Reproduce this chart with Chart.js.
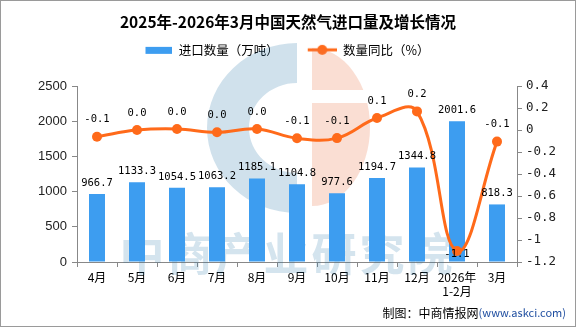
<!DOCTYPE html>
<html lang="zh">
<head>
<meta charset="UTF-8">
<title>2025年-2026年3月中国天然气进口量及增长情况</title>
<script src="https://cdn.jsdelivr.net/npm/chart.js"></script>
<style>
  body { margin: 0; background: #fff; }
  canvas { display: block; }
</style>
</head>
<body>
<canvas id="gasChart" width="576" height="327"></canvas>
<script>
// data
const months = ['4月', '5月', '6月', '7月', '8月', '9月', '10月', '11月', '12月', ['2026年', '1-2月'], '3月'];
const importVolume = [966.7, 1133.3, 1054.5, 1063.2, 1185.1, 1104.8, 977.6, 1194.7, 1344.8, 2001.6, 818.3];
const volumeYoY = [-0.06, 0.0, 0.01, -0.02, 0.01, -0.075, -0.073, 0.11, 0.17, -1.1, -0.105];
const leftTicks = [0, 500, 1000, 1500, 2000, 2500];
const rightTicks = [-1.2, -1.0, -0.8, -0.6, -0.4, -0.2, 0, 0.2, 0.4];

const BLUE = '#3d9df0';
const ORANGE = '#ff6a1a';
const CJK = '"Noto Sans CJK SC", "Noto Sans", sans-serif';
const MONO = '"DejaVu Sans Mono", "Liberation Mono", monospace';

// legend symbols (48px wide slot, drawn on the right side)
function legendIcon(kind) {
    const c = document.createElement('canvas');
    c.width = 48; c.height = 12;
    const g = c.getContext('2d');
    if (kind === 'bar') {
        g.fillStyle = BLUE;
        g.fillRect(21, 3, 27, 7);
    } else {
        g.strokeStyle = ORANGE;
        g.lineWidth = 3;
        g.beginPath(); g.moveTo(19, 6); g.lineTo(48, 6); g.stroke();
        g.fillStyle = ORANGE;
        g.beginPath(); g.arc(33.5, 6, 5, 0, Math.PI * 2); g.fill();
    }
    return c;
}
const barIcon = legendIcon('bar');
const lineIcon = legendIcon('line');

function fmt1(v) {
    let s = v.toFixed(1);
    if (s === '-0.0') s = '0.0';
    return s;
}

const extras = {
    id: 'extras',
    beforeLayout(chart) {
        const lg = chart.legend;
        if (lg && !lg._patched) {
            const fit = lg.fit;
            lg.fit = function () { fit.call(this); this.height += 20; };
            const draw = lg.draw;
            lg.draw = function (area) {
                this.ctx.save();
                this.ctx.translate(-11, 0);
                draw.call(this, area);
                this.ctx.restore();
            };
            lg._patched = true;
        }
    },
    beforeDatasetsDraw(chart) {
        // faint site watermark
        const ctx = chart.ctx;
        ctx.save();
        ctx.fillStyle = 'rgba(40,120,170,0.22)';
        ctx.beginPath();
        ctx.moveTo(297, 43);
        ctx.ellipse(297, 128, 90, 85, 0, -Math.PI / 2, Math.PI / 2, true);
        ctx.lineTo(297, 173);
        ctx.ellipse(297, 128, 48, 45, 0, Math.PI / 2, -Math.PI / 2, false);
        ctx.closePath();
        ctx.fill();
        ctx.fillStyle = 'rgba(235,115,70,0.24)';
        ctx.beginPath();
        ctx.moveTo(312, 48);
        ctx.ellipse(312, 127, 58, 79, 0, -Math.PI / 2, Math.PI / 2, false);
        ctx.closePath();
        ctx.fill();
        ctx.fillStyle = '#fff';
        ctx.fillRect(312, 90, 70, 13);
        ctx.fillStyle = 'rgba(40,120,170,0.2)';
        ctx.font = 'bold 45px ' + CJK;
        ctx.textAlign = 'center';
        ctx.textBaseline = 'middle';
        Array.from('中商产业研究院').forEach((ch, i) => {
            ctx.fillText(ch, 142 + i * 48, 254);
        });
        ctx.restore();
    },
    afterDatasetsDraw(chart) {
        const ctx = chart.ctx;
        ctx.save();
        ctx.fillStyle = '#000';
        ctx.textAlign = 'center';
        ctx.textBaseline = 'middle';
        ctx.font = '10.5px ' + MONO;
        chart.getDatasetMeta(0).data.forEach((bar, i) => {
            ctx.fillText(importVolume[i].toFixed(1), bar.x, bar.y - 11);
        });
        chart.getDatasetMeta(1).data.forEach((pt, i) => {
            const v = volumeYoY[i];
            const dy = v < -0.5 ? 3 : -17;
            ctx.fillText(fmt1(v), pt.x, pt.y + dy);
        });
        ctx.restore();
    },
    afterDraw(chart) {
        const ctx = chart.ctx;
        ctx.save();
        ctx.textBaseline = 'middle';
        ctx.textAlign = 'left';
        ctx.font = '11px ' + CJK;
        const site = '(www.askci.com)';
        const siteW = ctx.measureText(site).width;
        ctx.fillStyle = '#1f4ea0';
        ctx.fillText(site, 566 - siteW, 313);
        ctx.font = '12px ' + CJK;
        const lab = '制图：中商情报网';
        const labW = ctx.measureText(lab).width;
        ctx.fillStyle = '#000';
        ctx.fillText(lab, 566 - siteW - labW, 313);
        ctx.strokeStyle = '#9a9a9a';
        ctx.lineWidth = 1;
        ctx.strokeRect(0.5, 0.5, 575, 326);
        ctx.restore();
    }
};

new Chart(document.getElementById('gasChart').getContext('2d'), {
    data: {
        labels: months,
        datasets: [
            {
                type: 'bar',
                label: '进口数量（万吨）',
                data: importVolume,
                backgroundColor: BLUE,
                yAxisID: 'y',
                barPercentage: 0.4,
                categoryPercentage: 1.0,
                order: 2
            },
            {
                type: 'line',
                label: '数量同比（%）',
                data: volumeYoY,
                borderColor: ORANGE,
                backgroundColor: ORANGE,
                borderWidth: 3,
                pointRadius: 5,
                pointBackgroundColor: ORANGE,
                pointBorderWidth: 0,
                tension: 0.4,
                yAxisID: 'y1',
                order: 1
            }
        ]
    },
    options: {
        responsive: false,
        devicePixelRatio: 1,
        animation: false,
        layout: { padding: { left: 0, right: 0, top: 0, bottom: 0 } },
        plugins: {
            title: {
                display: true,
                text: '2025年-2026年3月中国天然气进口量及增长情况',
                color: '#000',
                font: { family: CJK, size: 15.5, weight: 'bold' },
                padding: { top: 13, bottom: 2 }
            },
            legend: {
                display: true,
                labels: {
                    color: '#000',
                    font: { family: CJK, size: 12.5 },
                    usePointStyle: true,
                    pointStyleWidth: 48,
                    boxHeight: 12,
                    padding: 10,
                    generateLabels: () => [
                        { text: '进口数量（万吨）', pointStyle: barIcon, datasetIndex: 0, fontColor: '#000',
                          fillStyle: 'transparent', strokeStyle: 'transparent', lineWidth: 0, hidden: false },
                        { text: '数量同比（%）', pointStyle: lineIcon, datasetIndex: 1, fontColor: '#000',
                          fillStyle: 'transparent', strokeStyle: 'transparent', lineWidth: 0, hidden: false }
                    ]
                }
            },
            tooltip: { enabled: false }
        },
        scales: {
            x: {
                offset: true,
                grid: { display: true, drawOnChartArea: false, drawTicks: true, tickLength: 5, color: '#888', offset: true },
                border: { color: '#888' },
                ticks: { color: '#000', font: { family: CJK, size: 12 }, padding: 3, maxRotation: 0, autoSkip: false },
                afterFit: s => { s.height = 65; }
            },
            y: {
                position: 'left',
                min: 0,
                max: 2500,
                afterBuildTicks: s => { s.ticks = leftTicks.map(v => ({ value: v })); },
                grid: { display: true, drawOnChartArea: false, drawTicks: true, tickLength: 5, color: '#888' },
                border: { color: '#888' },
                ticks: {
                    color: '#222',
                    font: { family: '"Liberation Sans", Arial, sans-serif', size: 13 },
                    padding: 5,
                    callback: v => String(v)
                },
                afterFit: s => { s.width = 77; }
            },
            y1: {
                position: 'right',
                min: -1.2,
                max: 0.4,
                afterBuildTicks: s => { s.ticks = rightTicks.map(v => ({ value: v })); },
                grid: { display: true, drawOnChartArea: false, drawTicks: true, tickLength: 5, color: '#888' },
                border: { color: '#888' },
                ticks: {
                    color: '#222',
                    font: { family: MONO, size: 12.5 },
                    padding: 4,
                    callback: v => Number(v.toFixed(1)).toString()
                },
                afterFit: s => { s.width = 59; }
            }
        }
    },
    plugins: [extras]
});
</script>
</body>
</html>
